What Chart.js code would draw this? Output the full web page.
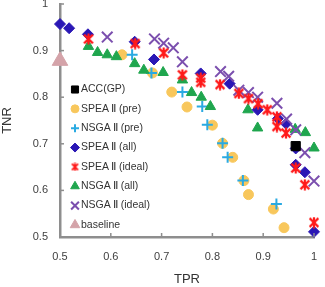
<!DOCTYPE html>
<html><head><meta charset="utf-8">
<script src="https://cdn.jsdelivr.net/npm/chart.js@4/dist/chart.umd.min.js"></script>
<style>html,body{margin:0;padding:0;background:#fff}#wrap{width:325px;height:287px}</style>
</head><body><div id="wrap"><canvas id="c" width="325" height="287"></canvas></div>
<script>
const seriesNames = ["ACC(GP)","SPEA\u2009\u2161 (pre)","NSGA\u2009\u2161 (pre)","SPEA\u2009\u2161 (all)","SPEA\u2009\u2161 (ideal)","NSGA\u2009\u2161 (all)","NSGA\u2009\u2161 (ideal)","baseline"];
const xTicks = [0.5,0.6,0.7,0.8,0.9,1];
const yTicks = [0.5,0.6,0.7,0.8,0.9,1];

const accGP = [[0.964,0.695]];
const speaPre = [[0.622,0.891],[0.682,0.852],[0.720,0.811],[0.750,0.779],[0.800,0.740],[0.820,0.701],[0.840,0.671],[0.862,0.621],[0.871,0.591],[0.920,0.560],[0.941,0.520]];
const nsgaPre = [[0.642,0.891],[0.680,0.852],[0.741,0.811],[0.780,0.780],[0.790,0.741],[0.820,0.701],[0.830,0.671],[0.860,0.621],[0.926,0.571]];
const speaAll = [[0.500,0.957],[0.518,0.948],[0.555,0.935],[0.647,0.919],[0.685,0.881],[0.777,0.851],[0.834,0.829],[0.889,0.773],[0.929,0.754],[0.945,0.743],[0.964,0.690],[0.964,0.655],[0.982,0.639],[1.000,0.511]];
const speaIdeal = [[0.556,0.925],[0.648,0.915],[0.704,0.895],[0.741,0.848],[0.777,0.841],[0.777,0.832],[0.815,0.827],[0.852,0.808],[0.871,0.797],[0.890,0.786],[0.908,0.773],[0.927,0.758],[0.927,0.737],[0.945,0.723],[0.964,0.648],[0.982,0.612],[1.000,0.531]];
const nsgaAll = [[0.556,0.909],[0.574,0.896],[0.593,0.891],[0.611,0.887],[0.647,0.872],[0.665,0.858],[0.703,0.853],[0.741,0.837],[0.759,0.810],[0.778,0.800],[0.796,0.780],[0.870,0.773],[0.889,0.734],[0.963,0.731],[0.983,0.724],[1.000,0.691]];
const nsgaIdeal = [[0.593,0.929],[0.686,0.925],[0.704,0.916],[0.723,0.906],[0.741,0.876],[0.816,0.855],[0.832,0.845],[0.852,0.815],[0.871,0.810],[0.889,0.800],[0.927,0.787],[0.946,0.753],[0.964,0.730],[0.982,0.681],[1.000,0.620]];
const baseline = [[0.500,0.878]];

function starCanvas(size, lw, color){
  const c = document.createElement('canvas'); c.width = size; c.height = size;
  const g = c.getContext('2d'); g.strokeStyle = color; g.lineWidth = lw; g.lineCap = 'butt';
  const m = lw/2+0.5, e = size - m, h = size/2;
  g.beginPath();
  g.moveTo(m,m); g.lineTo(e,e);
  g.moveTo(e,m); g.lineTo(m,e);
  g.moveTo(h,0.5); g.lineTo(h,size-0.5);
  g.stroke();
  return c;
}
const starBig = starCanvas(12, 2.2, '#FF1A1A');
const starSmall = starCanvas(9, 1.8, '#FF1A1A');

const styles = [
  {style:'rect', color:'#000000', r:6.5, bw:1, order:0, lr:5},
  {style:'circle', color:'#F8C75C', r:5, bw:1, order:6, lr:4},
  {style:'cross', color:'#2AAAE2', r:5.5, bw:2, order:5, lr:4},
  {style:'rectRot', color:'#2A17B5', r:5.5, bw:1, order:3, lr:4.5},
  {style:starBig, legendStyle:starSmall, color:'#FF1A1A', r:6, bw:2, order:1, lr:4},
  {style:'triangle', color:'#1FA64E', r:6, bw:1, order:4, lr:5},
  {style:'crossRot', color:'#7B4FAE', r:7.5, bw:2, order:2, lr:5.5},
  {style:'triangle', color:'#D4A3A9', r:9, bw:1, order:7, lr:5.5}
];
const allData = [accGP,speaPre,nsgaPre,speaAll,speaIdeal,nsgaAll,nsgaIdeal,baseline];

const datasets = allData.map((d,i)=>({
  label: seriesNames[i],
  data: d.map(p=>({x:p[0],y:p[1]})),
  pointStyle: styles[i].style,
  pointRadius: styles[i].r,
  pointHoverRadius: styles[i].r,
  backgroundColor: styles[i].color,
  borderColor: styles[i].color,
  pointBorderWidth: styles[i].bw,
  order: styles[i].order,
  clip: false,
  showLine: false
}));

const TOP = 4;
const axisColor = '#8E8E8E';
const fixTop = {
  id:'fixTop',
  afterLayout(chart){
    const ys = chart.scales.y, a = chart.chartArea;
    a.top = TOP; a.height = a.bottom - a.top;
    ys.top = TOP; ys.height = ys.bottom - ys.top;
    ys.configure();
  }
};
const innerTicks = {
  id:'innerTicks',
  afterDraw(chart){
    const ctx = chart.ctx, xs = chart.scales.x, ys = chart.scales.y, a = chart.chartArea;
    ctx.save();
    ctx.strokeStyle = axisColor; ctx.lineWidth = 1.5;
    xTicks.forEach(v=>{ const px = xs.getPixelForValue(v); ctx.beginPath(); ctx.moveTo(px,a.bottom); ctx.lineTo(px,a.bottom-4); ctx.stroke(); });
    yTicks.forEach(v=>{ const py = ys.getPixelForValue(v); ctx.beginPath(); ctx.moveTo(a.left,py); ctx.lineTo(a.left+4,py); ctx.stroke(); });
    const lx = 75, tx = 81, y0 = 89.5, dy = 19.35;
    ctx.font = '10.5px "Liberation Sans", Arial, sans-serif';
    ctx.textBaseline = 'middle'; ctx.textAlign = 'left';
    seriesNames.forEach((n,i)=>{
      const y = y0 + i*dy;
      const st = styles[i].legendStyle || styles[i].style;
      ctx.fillStyle = styles[i].color; ctx.strokeStyle = styles[i].color;
      ctx.lineWidth = (st==='cross'||st==='crossRot') ? 2 : 1;
      Chart.helpers.drawPoint(ctx, {pointStyle: st, radius: styles[i].lr, borderWidth: ctx.lineWidth, rotation:0}, lx, y);
      ctx.fillStyle = '#333333';
      ctx.fillText(n, tx, y);
    });
    ctx.restore();
  }
};

new Chart(document.getElementById('c'), {
  type:'scatter',
  data:{datasets},
  options:{
    responsive:false, animation:false, devicePixelRatio:1,
    layout:{padding:{top:4,right:11,left:0,bottom:0}},
    plugins:{legend:{display:false}, tooltip:{enabled:false}},
    scales:{
      x:{type:'linear', min:0.5, max:1,
        afterBuildTicks(s){ s.ticks = xTicks.map(v=>({value:v})); },
        afterFit(s){ s.height = 50; s.paddingLeft = 0; s.paddingRight = 0; },
        grid:{display:false, drawTicks:false},
        border:{display:true, color:axisColor, width:2.5},
        ticks:{padding:13, color:'#404040', font:{size:11, family:'"Liberation Sans", Arial'}, callback:v=>String(v)},
        title:{display:true, text:'TPR', color:'#333', font:{size:13, family:'"Liberation Sans", Arial'}, padding:{top:0,bottom:0}}
      },
      y:{type:'linear', min:0.5, max:1,
        afterBuildTicks(s){ s.ticks = yTicks.map(v=>({value:v})); },
        afterFit(s){ s.width = 60; s.paddingTop = 0; s.paddingBottom = 0; },
        grid:{display:false, drawTicks:false},
        border:{display:true, color:axisColor, width:2.5},
        ticks:{padding:12, color:'#404040', font:{size:11, family:'"Liberation Sans", Arial'}, callback:v=>String(v)},
        title:{display:true, text:'TNR', color:'#333', font:{size:13, family:'"Liberation Sans", Arial'}, padding:{top:0,bottom:0}}
      }
    }
  },
  plugins:[fixTop, innerTicks]
});
</script></body></html>
